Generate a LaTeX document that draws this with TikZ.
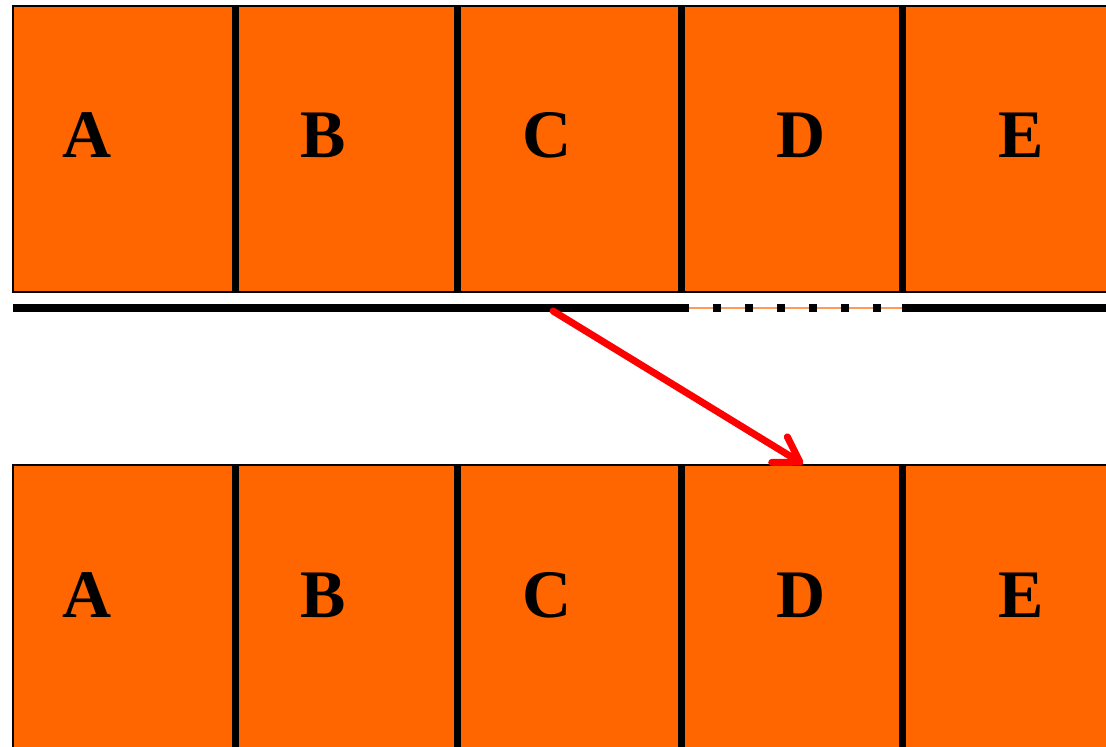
\documentclass[tikz,border=0pt]{standalone}
\usepackage{fontspec}
\setmainfont{Liberation Serif}
\usetikzlibrary{arrows.meta}
\definecolor{cellorange}{HTML}{FF6600}
\definecolor{lightorange}{HTML}{FF9955}
\definecolor{arrowred}{HTML}{FF0000}
\tikzset{
  cell/.style={fill=cellorange, draw=none, inner sep=0pt, anchor=north west},
  frame/.style={draw=black, line width=2pt},
  divider/.style={draw=black, line width=7.5pt},
  letter/.style={font=\fontsize{68}{68}\selectfont\bfseries, inner sep=0pt, text=black},
  track/.style={draw=black, line width=8pt},
  gapline/.style={draw=lightorange, line width=1.5pt},
  gapdash/.style={draw=black, line width=8pt, dash pattern=on 7.6pt off 24.4pt},
  move/.style={draw=arrowred, line width=7pt, line cap=round,
    -{Straight Barb[length=24pt, width=30pt, line cap=round, round]}}
}
\begin{document}
\begin{tikzpicture}[x=1pt, y=-1pt]
\useasboundingbox (0,0) rectangle (1106,747);
\clip (0,0) rectangle (1106,747);
% ---- top row ----
\node[cell, minimum width=222pt, minimum height=286pt] (tA) at (13,6) {};
\node[cell, minimum width=222pt, minimum height=286pt] (tB) at (235,6) {};
\node[cell, minimum width=224pt, minimum height=286pt] (tC) at (457,6) {};
\node[cell, minimum width=221pt, minimum height=286pt] (tD) at (681,6) {};
\node[cell, minimum width=220pt, minimum height=286pt] (tE) at (902,6) {};
\draw[frame] (tA.north west) rectangle (tE.south east);
\draw[divider] (tA.north east) -- (tA.south east);
\draw[divider] (tB.north east) -- (tB.south east);
\draw[divider] (tC.north east) -- (tC.south east);
\draw[divider] (tD.north east) -- (tD.south east);
\node[letter] (lA) at (87,135.5) {A};
\node[letter] (lB) at (323,135.5) {B};
\node[letter] (lC) at (547,135.5) {C};
\node[letter] (lD) at (801,135.5) {D};
\node[letter] (lE) at (1021.5,135.5) {E};
% ---- track ----
\coordinate (s0) at (13,308);
\coordinate (s1) at (681,308);
\coordinate (s2) at (902,308);
\coordinate (s3) at (1110,308);
\draw[track] (s0) -- (s1);
\draw[gapline] (s1) -- (s2);
\draw[gapdash] (s1) -- (s2);
\draw[track] (s2) -- (s3);
% ---- bottom row ----
\node[cell, minimum width=222pt, minimum height=300pt] (bA) at (13,465) {};
\node[cell, minimum width=222pt, minimum height=300pt] (bB) at (235,465) {};
\node[cell, minimum width=224pt, minimum height=300pt] (bC) at (457,465) {};
\node[cell, minimum width=221pt, minimum height=300pt] (bD) at (681,465) {};
\node[cell, minimum width=220pt, minimum height=300pt] (bE) at (902,465) {};
\draw[frame] (bA.north west) rectangle (bE.south east);
\draw[divider] (bA.north east) -- (bA.south east);
\draw[divider] (bB.north east) -- (bB.south east);
\draw[divider] (bC.north east) -- (bC.south east);
\draw[divider] (bD.north east) -- (bD.south east);
\node[letter] (mA) at (87,595.5) {A};
\node[letter] (mB) at (323,595.5) {B};
\node[letter] (mC) at (547,595.5) {C};
\node[letter] (mD) at (801,595.5) {D};
\node[letter] (mE) at (1021.5,595.5) {E};
% ---- arrow ----
\coordinate (from) at (553,311);
\coordinate (to) at (803,464);
\draw[move] (from) -- (to);
\end{tikzpicture}
\end{document}
